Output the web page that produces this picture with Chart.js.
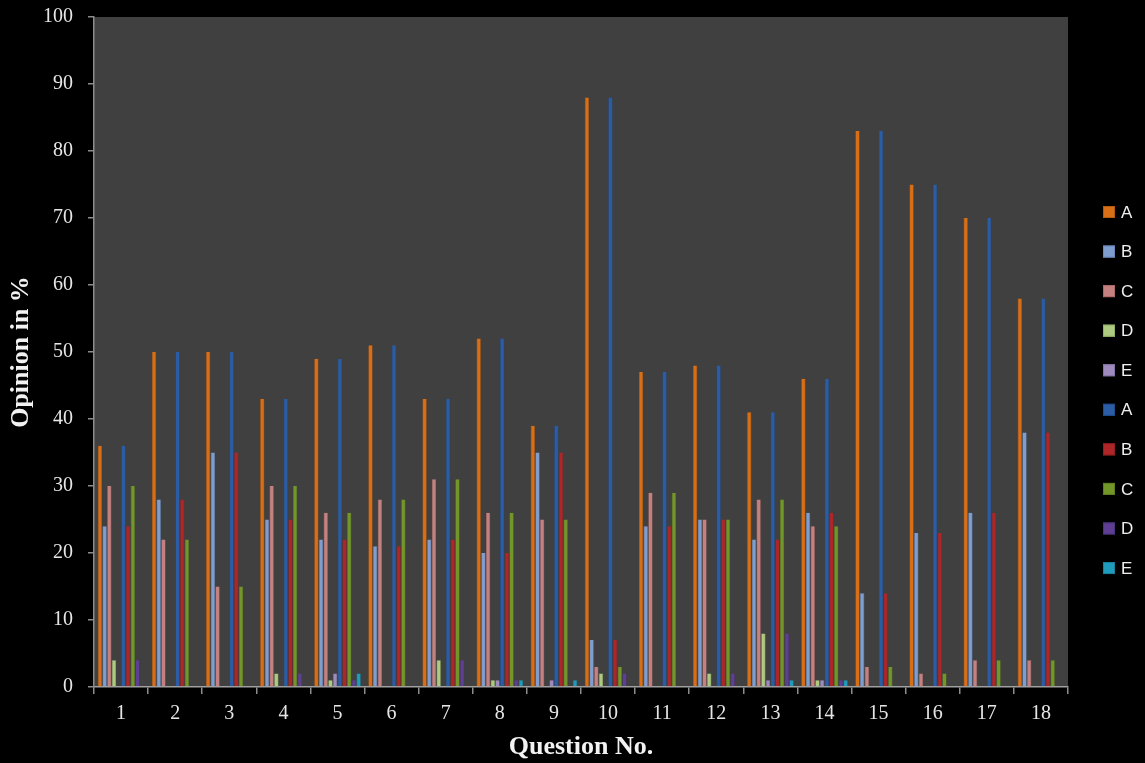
<!DOCTYPE html>
<html>
<head>
<meta charset="utf-8">
<script src="https://cdn.jsdelivr.net/npm/chart.js@4.4.1/dist/chart.umd.min.js"></script>
<style>
  html, body { margin: 0; padding: 0; background: #000; }
  #wrap { width: 1145px; height: 763px; }
</style>
</head>
<body>
<div id="wrap"><canvas id="c" width="1145" height="763"></canvas></div>
<script>
// ---- data ----
const categories = ['1','2','3','4','5','6','7','8','9','10','11','12','13','14','15','16','17','18'];
const seriesLabels = ['A','B','C','D','E','A','B','C','D','E'];
const valuesA = [36,50,50,43,49,51,43,52,39,88,47,48,41,46,83,75,70,58];
const valuesB = [24,28,35,25,22,21,22,20,35,7,24,25,22,26,14,23,26,38];
const valuesC = [30,22,15,30,26,28,31,26,25,3,29,25,28,24,3,2,4,4];
const valuesD = [4,0,0,2,1,0,4,1,0,2,0,2,8,1,0,0,0,0];
const valuesE = [0,0,0,0,2,0,0,1,1,0,0,0,1,1,0,0,0,0];
const yTicks = [0,10,20,30,40,50,60,70,80,90,100];

// ---- styles ----
const fills   = ['#D86E16','#7F9DCD','#C58180','#AECA80','#9E8ABD','#2A5DA6','#AE2628','#729629','#5E3F94','#1F9BBB'];
const borders = ['#B45A10','#6A88BA','#A96A69','#94B068','#8472A6','#214C8C','#921F21','#5E7E20','#4D327C','#1A819C'];
const seriesValues = [valuesA, valuesB, valuesC, valuesD, valuesE, valuesA, valuesB, valuesC, valuesD, valuesE];

const datasets = seriesValues.map((vals, i) => ({
  label: seriesLabels[i],
  data: vals,
  backgroundColor: fills[i],
  borderColor: borders[i],
  borderWidth: (ctx) => (ctx.raw ? { left: 0.6, right: 0.6, top: 0, bottom: 0 } : 0),
  borderSkipped: 'start',
  categoryPercentage: 0.868,
  barPercentage: 0.92
}));

const bgPlugin = {
  id: 'bg',
  beforeDraw(chart) {
    const { ctx, chartArea: a } = chart;
    ctx.save();
    ctx.fillStyle = '#000';
    ctx.fillRect(0, 0, chart.width, chart.height);
    ctx.fillStyle = '#404040';
    ctx.fillRect(a.left, a.top, a.right - a.left, a.bottom - a.top);
    ctx.restore();
  }
};

const legendPlugin = {
  id: 'sideLegend',
  afterDraw(chart) {
    const { ctx } = chart;
    const x0 = 1103, y0 = 212, step = 39.56, box = 12;
    ctx.save();
    ctx.font = '17px "Liberation Sans", Arial, sans-serif';
    ctx.textBaseline = 'middle';
    ctx.textAlign = 'left';
    chart.data.datasets.forEach((ds, i) => {
      const cy = y0 + i * step;
      ctx.fillStyle = ds.backgroundColor;
      ctx.fillRect(x0, cy - box / 2, box, box);
      ctx.strokeStyle = ds.borderColor;
      ctx.lineWidth = 1;
      ctx.strokeRect(x0 + 0.5, cy - box / 2 + 0.5, box - 1, box - 1);
      ctx.fillStyle = '#eeeeee';
      ctx.fillText(ds.label, x0 + 18, cy + 1);
    });
    ctx.restore();
  }
};

const axisColor = '#8c8c8c';
const tickFont = { family: '"Liberation Serif", "Times New Roman", serif', size: 20 };
const titleFont = { family: '"Liberation Serif", "Times New Roman", serif', size: 26, weight: 'bold' };

new Chart(document.getElementById('c'), {
  type: 'bar',
  data: { labels: categories, datasets },
  options: {
    responsive: false,
    animation: false,
    devicePixelRatio: 1,
    layout: { padding: { top: 17, right: 77, bottom: 0, left: 0 } },
    plugins: { legend: { display: false }, tooltip: { enabled: false } },
    scales: {
      x: {
        grid: { display: true, drawOnChartArea: false, drawTicks: true, tickLength: 7, color: axisColor, offset: true, lineWidth: 1.5 },
        border: { display: true, color: '#a0a0a0', width: 1.5 },
        ticks: { color: '#e6e6e6', font: tickFont, padding: 8 },
        title: { display: true, text: 'Question No.', color: '#f2f2f2', font: titleFont, padding: { top: 0, bottom: 0 } },
        afterFit(scale) { scale.height = 76; scale.paddingLeft = 0; scale.paddingRight = 0; }
      },
      y: {
        min: 0, max: 100,
        afterBuildTicks(scale) { scale.ticks = yTicks.map(v => ({ value: v })); },
        grid: { display: true, drawOnChartArea: false, drawTicks: true, tickLength: 6, color: axisColor, lineWidth: 1.5 },
        border: { display: true, color: axisColor, width: 1.5 },
        ticks: { color: '#e6e6e6', font: tickFont, padding: 15 },
        title: { display: true, text: 'Opinion in %', color: '#f2f2f2', font: titleFont, padding: { top: 6, bottom: 0 } },
        afterFit(scale) { scale.width = 94; scale.paddingTop = 0; scale.paddingBottom = 0; }
      }
    }
  },
  plugins: [bgPlugin, legendPlugin]
});
</script>
</body>
</html>
